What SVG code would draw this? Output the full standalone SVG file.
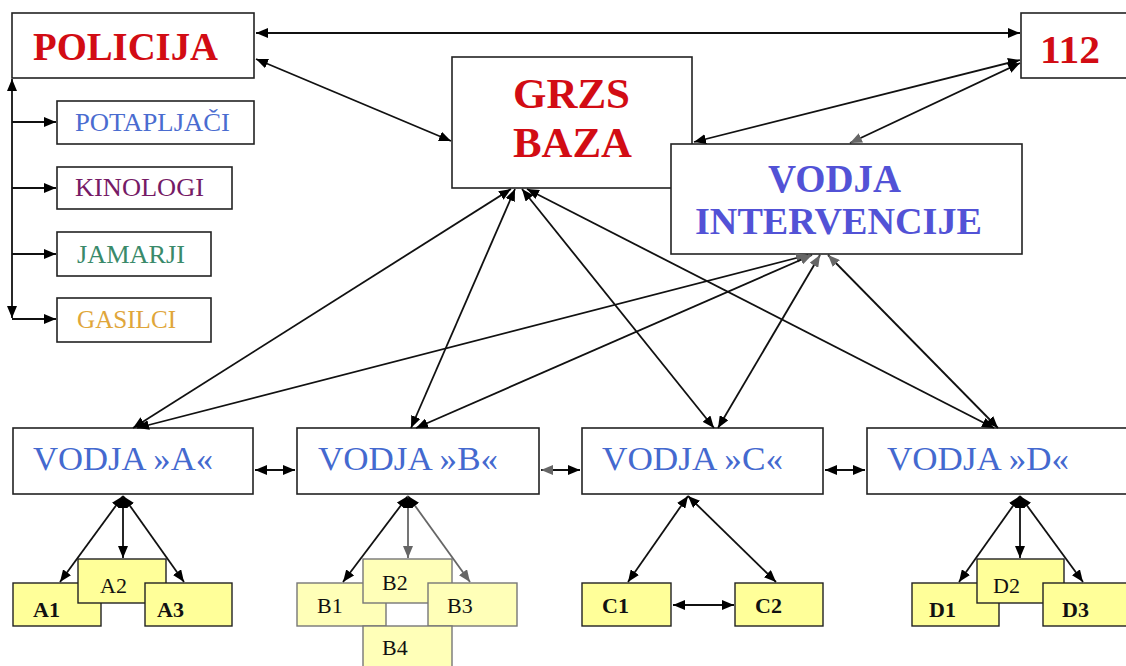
<svg xmlns="http://www.w3.org/2000/svg" width="1126" height="666" viewBox="0 0 1126 666">
<defs>
<style>
.box{fill:#fff;stroke:#222;stroke-width:1.6}
.ybox{fill:#ffff99;stroke:#222;stroke-width:1.4}
.ybl{fill:#ffffb8;stroke:#777;stroke-width:1.4}
.t{font-family:"Liberation Serif","Times New Roman",serif}
.big{font-weight:bold;fill:#d20c14}
.vi{font-weight:bold;fill:#5252d6}
.row{font-size:33px;fill:#4469cf}
.sub{font-size:25px}
.lab{font-size:22px;fill:#111}
.c{fill:none;stroke:#111;stroke-width:1.8}
.g{fill:none;stroke:#666;stroke-width:1.8}
</style>
<marker id="ah" viewBox="0 0 12 10" refX="12" refY="5" markerWidth="12" markerHeight="10" markerUnits="userSpaceOnUse" orient="auto-start-reverse"><path d="M0,0L12,5L0,10z" fill="#000"/></marker>
<marker id="ag" viewBox="0 0 12 10" refX="12" refY="5" markerWidth="12" markerHeight="10" markerUnits="userSpaceOnUse" orient="auto-start-reverse"><path d="M0,0L12,5L0,10z" fill="#666"/></marker>
</defs>
<rect width="1126" height="666" fill="#fff"/>

<g id="policija"><rect class="box" x="12" y="13" width="242" height="65"/><text class="t big" x="33" y="60" font-size="39" textLength="185" lengthAdjust="spacingAndGlyphs">POLICIJA</text></g>
<g id="n112"><rect class="box" x="1021" y="13" width="110" height="65"/><text class="t big" x="1040" y="63" font-size="40" textLength="60" lengthAdjust="spacingAndGlyphs">112</text></g>
<g id="potapljaci"><rect class="box" x="57" y="101" width="197" height="43"/><text class="t sub" x="75" y="131" fill="#4a6cd0" textLength="155" lengthAdjust="spacingAndGlyphs">POTAPLJAČI</text></g>
<g id="kinologi"><rect class="box" x="57" y="167" width="175" height="42"/><text class="t sub" x="75" y="196" fill="#761a66" textLength="129" lengthAdjust="spacingAndGlyphs">KINOLOGI</text></g>
<g id="jamarji"><rect class="box" x="57" y="232" width="154" height="44"/><text class="t sub" x="77" y="263" fill="#3a8a6a" textLength="108" lengthAdjust="spacingAndGlyphs">JAMARJI</text></g>
<g id="gasilci"><rect class="box" x="57" y="298" width="154" height="44"/><text class="t sub" x="77" y="328" fill="#e0a63a" textLength="99" lengthAdjust="spacingAndGlyphs">GASILCI</text></g>
<g id="grzs"><rect class="box" x="452" y="57" width="240" height="131"/><text class="t big" x="513" y="108" font-size="43" textLength="117" lengthAdjust="spacingAndGlyphs">GRZS</text><text class="t big" x="513" y="157" font-size="43" textLength="119" lengthAdjust="spacingAndGlyphs">BAZA</text></g>
<g id="vodja-int"><rect class="box" x="671" y="144" width="351" height="110"/><text class="t vi" x="768" y="192" font-size="39" textLength="133" lengthAdjust="spacingAndGlyphs">VODJA</text><text class="t vi" x="695" y="234" font-size="38" textLength="287" lengthAdjust="spacingAndGlyphs">INTERVENCIJE</text></g>

<g id="vodja-a"><rect class="box" x="13" y="428" width="240" height="66"/><text class="t row" x="33" y="470" textLength="180" lengthAdjust="spacingAndGlyphs">VODJA »A«</text></g>
<g id="vodja-b"><rect class="box" x="297" y="428" width="242" height="66"/><text class="t row" x="318" y="470" textLength="180" lengthAdjust="spacingAndGlyphs">VODJA »B«</text></g>
<g id="vodja-c"><rect class="box" x="582" y="428" width="241" height="66"/><text class="t row" x="602" y="470" fill="#7088dc" textLength="181" lengthAdjust="spacingAndGlyphs">VODJA »C«</text></g>
<g id="vodja-d"><rect class="box" x="867" y="428" width="264" height="66"/><text class="t row" x="887" y="470" textLength="182" lengthAdjust="spacingAndGlyphs">VODJA »D«</text></g>

<g id="a1"><rect class="ybox" x="13" y="583" width="88" height="43"/><text class="t lab" x="33" y="617" font-weight="bold">A1</text></g>
<g id="a2"><rect class="ybox" x="78" y="559" width="88" height="44"/><text class="t lab" x="100" y="593">A2</text></g>
<g id="a3"><rect class="ybox" x="145" y="583" width="87" height="43"/><text class="t lab" x="157" y="617" font-weight="bold">A3</text></g>

<g id="b1"><rect class="ybl" x="297" y="583" width="89" height="43"/><text class="t lab" x="317" y="613" fill="#444">B1</text></g>
<g id="b2"><rect class="ybl" x="363" y="559" width="89" height="44"/><text class="t lab" x="382" y="590" fill="#444">B2</text></g>
<g id="b3"><rect class="ybl" x="428" y="583" width="89" height="43"/><text class="t lab" x="447" y="613" fill="#444">B3</text></g>
<g id="b4"><rect class="ybl" x="363" y="626" width="89" height="44"/><text class="t lab" x="382" y="655" fill="#444">B4</text></g>

<g id="c1"><rect class="ybox" x="582" y="583" width="89" height="43"/><text class="t lab" x="602" y="613" font-weight="bold">C1</text></g>
<g id="c2"><rect class="ybox" x="735" y="583" width="88" height="43"/><text class="t lab" x="755" y="613" font-weight="bold">C2</text></g>

<g id="d1"><rect class="ybox" x="912" y="583" width="87" height="43"/><text class="t lab" x="929" y="617" font-weight="bold">D1</text></g>
<g id="d2"><rect class="ybox" x="977" y="559" width="87" height="44"/><text class="t lab" x="993" y="593">D2</text></g>
<g id="d3"><rect class="ybox" x="1043" y="583" width="88" height="43"/><text class="t lab" x="1062" y="617" font-weight="bold">D3</text></g>

<g id="connectors">
<line class="c" x1="256" y1="33" x2="1020" y2="33" marker-start="url(#ah)" marker-end="url(#ah)"/>
<line class="c" x1="256" y1="59" x2="451" y2="141" marker-start="url(#ah)" marker-end="url(#ah)"/>
<line class="c" x1="1020" y1="60" x2="694" y2="142" marker-start="url(#ah)" marker-end="url(#ah)"/>
<line class="c" x1="1020" y1="63" x2="850" y2="143" marker-start="url(#ah)" marker-end="url(#ag)"/>

<line class="c" x1="133" y1="428" x2="511" y2="189" marker-start="url(#ah)" marker-end="url(#ah)"/>
<line class="c" x1="411" y1="428" x2="515" y2="189" marker-start="url(#ah)" marker-end="url(#ah)"/>
<line class="c" x1="714" y1="428" x2="522" y2="189" marker-start="url(#ah)" marker-end="url(#ah)"/>
<line class="c" x1="994" y1="428" x2="527" y2="189" marker-start="url(#ah)" marker-end="url(#ah)"/>

<line class="c" x1="137" y1="428" x2="808" y2="255" marker-start="url(#ah)" marker-end="url(#ag)"/>
<line class="c" x1="416" y1="428" x2="812" y2="255" marker-start="url(#ah)" marker-end="url(#ag)"/>
<line class="c" x1="718" y1="428" x2="820" y2="255" marker-start="url(#ah)" marker-end="url(#ag)"/>
<line class="c" x1="998" y1="428" x2="828" y2="255" marker-start="url(#ah)" marker-end="url(#ag)"/>

<line class="c" x1="255" y1="470" x2="295" y2="470" marker-start="url(#ah)" marker-end="url(#ah)"/>
<line class="c" x1="541" y1="470" x2="580" y2="470" marker-start="url(#ag)" marker-end="url(#ah)"/>
<line class="c" x1="825" y1="470" x2="865" y2="470" marker-start="url(#ah)" marker-end="url(#ah)"/>

<line class="c" x1="12" y1="79" x2="12" y2="318" marker-start="url(#ah)" marker-end="url(#ah)"/>
<line class="c" x1="12" y1="122" x2="56" y2="122" marker-end="url(#ah)"/>
<line class="c" x1="12" y1="188" x2="56" y2="188" marker-end="url(#ah)"/>
<line class="c" x1="12" y1="254" x2="56" y2="254" marker-end="url(#ah)"/>
<line class="c" x1="12" y1="319" x2="56" y2="319" marker-end="url(#ah)"/>

<line class="c" x1="123" y1="496" x2="60" y2="582" marker-start="url(#ah)" marker-end="url(#ah)"/>
<line class="c" x1="123" y1="496" x2="123" y2="558" marker-start="url(#ah)" marker-end="url(#ah)"/>
<line class="c" x1="123" y1="496" x2="184" y2="582" marker-start="url(#ah)" marker-end="url(#ah)"/>

<line class="c" x1="408" y1="496" x2="343" y2="582" marker-start="url(#ah)" marker-end="url(#ah)"/>
<line class="g" x1="408" y1="496" x2="408" y2="558" marker-start="url(#ah)" marker-end="url(#ag)"/>
<line class="g" x1="408" y1="496" x2="470" y2="582" marker-start="url(#ah)" marker-end="url(#ag)"/>

<line class="c" x1="688" y1="496" x2="628" y2="582" marker-start="url(#ah)" marker-end="url(#ah)"/>
<line class="c" x1="688" y1="496" x2="776" y2="582" marker-start="url(#ah)" marker-end="url(#ah)"/>
<line class="c" x1="673" y1="605" x2="734" y2="605" marker-start="url(#ah)" marker-end="url(#ah)"/>

<line class="c" x1="1020" y1="496" x2="959" y2="582" marker-start="url(#ah)" marker-end="url(#ah)"/>
<line class="c" x1="1020" y1="496" x2="1020" y2="558" marker-start="url(#ah)" marker-end="url(#ah)"/>
<line class="c" x1="1020" y1="496" x2="1083" y2="582" marker-start="url(#ah)" marker-end="url(#ah)"/>
</g>
</svg>
